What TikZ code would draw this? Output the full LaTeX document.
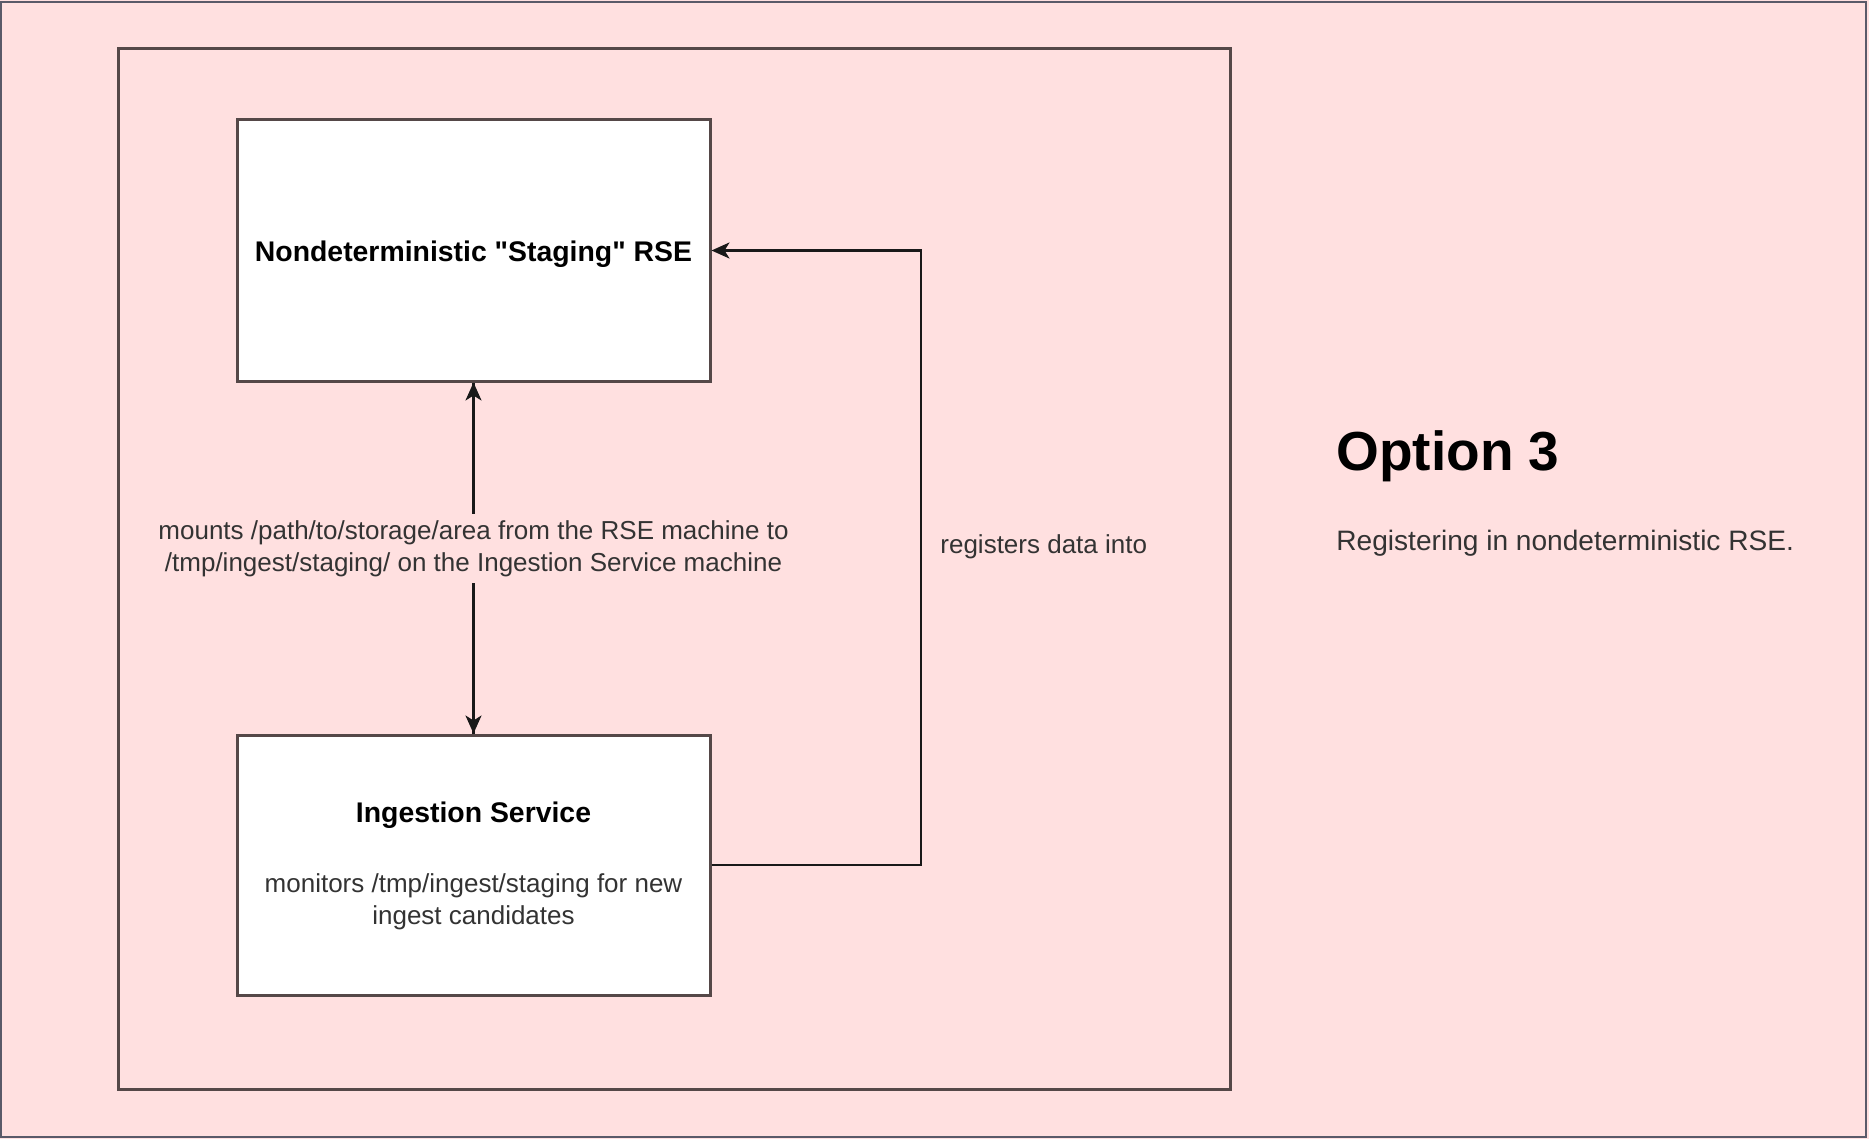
\documentclass[tikz,border=0pt]{standalone}
\usepackage{fontspec}
\setmainfont{Liberation Sans}[Ligatures=TeXOff]
\usetikzlibrary{arrows.meta}
\definecolor{bgpink}{RGB}{255,224,224}
\definecolor{boxline}{RGB}{85,72,72}
\definecolor{frameline}{RGB}{90,90,105}
\definecolor{txt}{RGB}{51,51,51}
\tikzset{
  box/.style={draw=boxline, line width=1.5pt, fill=white, inner sep=0pt},
  conn/.style={draw=black!90, line width=1.2pt},
  tip/.style={-{Stealth[length=9pt,width=8pt,inset=2.5pt]}},
  lbl/.style={text=txt, font=\fontsize{13}{16}\selectfont, align=center, inner sep=0pt},
  ttl/.style={text=black, font=\fontsize{14.2}{17}\selectfont\bfseries, inner sep=0pt},
}
\begin{document}
\begin{tikzpicture}[x=0.5pt,y=-0.5pt]
\useasboundingbox (0,0) rectangle (1869,1139);
\fill[bgpink] (0,0) rectangle (1869,1139);
\node[draw=frameline, line width=1pt, minimum width=932.5pt, minimum height=567.5pt, inner sep=0pt] (frame) at (933.5,569.5) {};
\node[draw=boxline, line width=1.5pt, minimum width=556pt, minimum height=520pt, inner sep=0pt] (cont) at (674,569) {};
\node[box, minimum width=236.5pt, minimum height=130.5pt] (stg) at (473.5,250.5) {};
\node[ttl] (stgt) at (473.5,254.5) {Nondeterministic "Staging" RSE};
\node[box, minimum width=236.5pt, minimum height=130pt] (ing) at (473.5,865) {};
\node[ttl] (ingt) at (473.5,815.5) {Ingestion Service};
\node[lbl] (ingb) at (473.5,901.5) {monitors /tmp/ingest/staging for new\\ingest candidates};
\draw[conn, tip] (ing.north) -- (stg.south);
\draw[conn, tip] (stg.south) -- (ing.north);
\node[lbl, fill=bgpink, inner ysep=3pt, inner xsep=2pt] (mnt) at (473.5,548.5) {mounts /path/to/storage/area from the RSE machine to\\/tmp/ingest/staging/ on the Ingestion Service machine};
\coordinate (c1) at (921,865);
\coordinate (c2) at (921,250.5);
\draw[conn, tip] (ing.east) -- (c1) -- (c2) -- (stg.east);
\node[lbl, anchor=west] (reg) at (940,546.5) {registers data into};
\node[text=black, font=\fontsize{27.5}{32}\selectfont\bfseries, anchor=base west, inner sep=0pt] (opt) at (1336,470) {Option 3};
\node[lbl, font=\fontsize{14.05}{17}\selectfont, anchor=base west] (desc) at (1336,550) {Registering in nondeterministic RSE.};
\end{tikzpicture}
\end{document}
